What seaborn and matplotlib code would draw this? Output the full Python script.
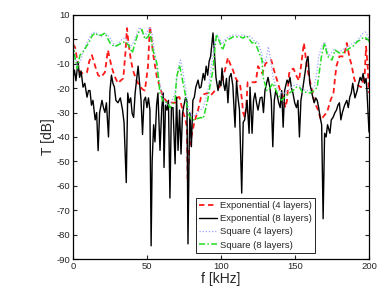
import numpy as np
import pandas as pd
import matplotlib
matplotlib.use("Agg")
import matplotlib.pyplot as plt
import seaborn as sns

# Exponential (8 layers) - black solid
exp8_f = [0, 1, 2, 3.4, 4.5, 5.5, 6.8, 8, 9.5, 10.5,
          11.5, 12.5, 13.5, 15, 16, 17, 18, 19.6, 20.6, 21.6,
          22.6, 24, 25, 26, 27, 28, 29, 30.4, 32, 33.5,
          34.5, 36, 37, 38, 39, 40, 41, 42, 43, 44,
          45, 46, 47, 48, 49, 50, 51, 52, 52.8, 53.5,
          54.5, 55.4, 56.5, 57.4, 58.8, 60, 61, 61.5, 62.5, 63.5,
          64.5, 65.5, 66.5, 67.6, 69, 70, 71, 72, 73, 74,
          75, 76, 77, 77.7, 78.5, 79, 80, 81, 82, 83,
          84.5, 85.5, 86.5, 88, 89, 90, 91, 92, 93, 94.6,
          95.5, 96.6, 98, 99, 100, 100.7, 101.7, 102.7, 103.7, 104.7,
          105.7, 106.8, 108, 109.5, 110.5, 111.5, 112.5, 114, 115, 116,
          117.6, 119, 119.6, 121, 122, 123, 124, 125, 126.5, 127.7,
          128.7, 129.7, 130.8, 131.8, 133, 134, 135, 136, 137, 138,
          139, 140, 141, 142, 143, 144.6, 145.6, 146.6, 147.6, 148.6,
          149.8, 151, 152, 153, 154, 155.4, 156.5, 158, 158.8, 160,
          161, 162, 163, 164, 165, 166, 167, 168, 169, 170,
          171, 172, 173.6, 174.5, 175.7, 177, 178, 179, 180, 181,
          182, 183.5, 185, 186, 187, 188, 189, 190.5, 192, 193,
          194, 195, 196, 197, 198, 198.6, 199.5, 200]
exp8_T = [-16, -12.6, -17, -9.3, -15.6, -13, -19.6, -18, -23.7, -21,
          -21, -27, -25, -33, -30, -45.6, -30, -25, -28, -30,
          -26, -40, -21, -14.7, -18, -19.6, -25, -26, -24, -29,
          -34, -58.7, -22, -26, -24, -30.4, -32, -22, -16.7, -11,
          -18, -25, -39, -25, -23.7, -28, -24, -29, -84.6, -50,
          -35, -42, -27, -22, -45.5, -28, -22, -52.5, -27, -29,
          -25, -65, -28, -28, -51, -23.7, -45.5, -29, -47, -30.4,
          -27, -24, -25, -83.8, -45, -30, -44, -25, -23.7, -19.6,
          -16.7, -20, -19.6, -14, -16.7, -11, -14.7, -9, -7, 2.6,
          -5, -15.6, -21, -17, -19, -11.8, -18, -21, -16, -26,
          -15.6, -14, -19, -36, -17, -24, -29, -63, -34, -33,
          -25, -38.5, -19.6, -38.5, -25, -22, -26, -29, -24, -23.7,
          -30, -21, -18, -15.6, -19.6, -25, -44, -25, -21, -23,
          -26, -28, -21, -36, -21, -16.7, -18, -15.6, -20, -22,
          -26, -28, -25, -40, -25, -19.6, -15, -8.5, -7, -18,
          -21, -23.7, -26, -24, -25, -28, -32, -35, -73.5, -38.5,
          -40, -35, -38.5, -33, -32, -30, -29, -27, -26, -33,
          -30, -27, -25, -28, -23.7, -22, -18, -24, -21, -18,
          -15.6, -17, -14, -18, -16, -21, -32, -38]

# Exponential (4 layers) - red dashed
exp4_f = [0, 1.4, 3, 4.7, 7, 9.5, 11, 12.8, 15, 17,
          19, 21.6, 23.6, 26, 28, 30.4, 32, 34, 35.5, 36.5,
          37.5, 39, 40.5, 43, 45, 47, 48.6, 50.7, 52, 53,
          54, 55.5, 56.7, 59, 61, 64, 65.5, 67.6, 69, 71,
          72, 74, 76, 77, 77.5, 78.5, 80, 82, 84.5, 86.5,
          88.5, 91, 93, 96, 99, 100, 102.7, 104.7, 106, 108,
          110, 113, 114, 115, 116, 117, 118, 121, 123.5, 125,
          127, 128, 130, 132, 134, 135.5, 137, 138.5, 140, 142,
          143.5, 144.6, 146, 147, 149, 151, 152.7, 154.5, 156, 158,
          160, 162, 163, 165, 167.5, 170, 171.6, 174, 176, 177,
          178, 180, 181, 183, 185, 187, 188, 190, 191, 193,
          194.6, 196, 197, 198, 199, 200]
exp4_T = [-2, -3.2, -9, -13.5, -14, -13.5, -9, -6.5, -11, -14.7,
          -15.5, -13.5, -4.4, -11, -15, -18, -17, -16, -5, 4.6,
          -1.5, -8, -12.6, -17, -19, -20.5, -21, -11, 5.5, 1,
          -5.6, -11, -15.6, -20, -23.7, -26, -25.8, -26, -26, -23.7,
          -23.7, -29, -33, -36, -57, -45, -40, -34, -29, -23.7,
          -22.5, -22, -23, -21, -19.6, -18, -12.6, -7.5, -9.8, -12.5,
          -16, -19, -24, -30, -32, -28, -17.6, -17.6, -17.6, -11,
          -13, -14, -10, -9, -8.5, -12, -15, -18, -21, -23.7,
          -28, -25, -14, -12.6, -12, -15, -17, -9, -1.5, -11,
          -17, -22, -26, -28, -33, -31, -30, -25, -22, -16,
          -11, -7, -7, -7, -1.5, -8, -10, -16, -18, -19,
          -19.6, -17, -15.6, -3, -10, -22]

# Square (4 layers) - blue dotted
sq4_f = [0, 1.5, 3, 5, 7, 9, 11, 13, 15, 17,
         19, 21, 23, 25, 27, 29, 31, 33, 35, 37,
         39, 41, 43, 45, 47, 48.5, 50, 52, 53.5, 55,
         57, 59, 61, 63, 65, 67, 69, 71, 72.5, 74,
         76, 78, 80, 82, 84, 86, 88, 90, 92, 94,
         95.5, 97, 99, 101, 103, 105, 107, 109, 111, 113,
         115, 117, 119, 121, 123, 125, 127, 129, 130.5, 132,
         133.5, 135, 137, 139, 141, 143, 145, 147, 149, 151,
         153, 155, 157, 159, 161, 163, 165, 166, 168, 170,
         171.5, 173, 175, 176.5, 178, 180, 182, 184, 186, 188,
         190, 192, 194, 196, 197.5, 199, 200]
sq4_T = [-1, -7, -11, -9, -5, -2, 0.5, 2.5, 3, 2,
         1, 2.5, 2, 0.5, -1.5, -3, -1.5, 0, 0.5, -1,
         -3, -1, 2, 5, 3, 1, 3, 5, 2, -5,
         -13, -19, -24, -26.5, -27, -25, -22, -12, -8.5, -12,
         -20, -28, -31, -31.5, -30, -29, -28, -24, -18, -9,
         -2, 2, 0, -2, 0, 1, 1.5, 2, 1.5, 1.5,
         2, 1, 1.5, 0.5, -1, -1, -5, -10, -8, -3,
         -8, -15, -19, -21, -22, -22, -21, -20, -19, -18.5,
         -19, -20.5, -21, -21, -20.5, -19.6, -12.6, -7, -3, -1,
         -4, -7, -5, -4, -5, -5, -4.5, -3.5, -3, -2,
         -1.5, -0.5, 1, 2.5, 3, 1.5, 0]

# Square (8 layers) - green dash-dot
sq8_f = [0, 1.5, 3, 4.7, 7, 9, 11, 13, 15, 17,
         19.6, 21.6, 23, 25, 28, 30, 33, 35, 37, 39,
         40, 42, 44, 46.6, 48.6, 50.7, 52, 54, 56.7, 58.8,
         61, 64, 65.5, 67, 69, 70, 72, 73.6, 75.7, 77.7,
         80, 82, 84, 86.5, 88, 91, 92.6, 94.6, 96, 97,
         99, 101, 103.4, 106.8, 108, 111.5, 113, 115, 117, 118,
         121, 123, 125, 127.7, 128.5, 131, 133, 135, 138, 141,
         143, 145, 148.6, 151, 153, 155, 158, 160, 163, 165,
         166.5, 168, 170, 172, 175, 177, 180, 182, 185, 187,
         189, 192, 194, 197, 199.5, 200]
sq8_T = [-1, -8, -12, -6.5, -5, -3, -1, 1.5, 2.6, 1.5,
         1.8, 2.6, 1, -1.5, -3, -2.5, -1.5, -1, -2, -4,
         -5.6, -1.5, 2.6, 4, 0, 1, 3, -4.4, -9.8, -22,
         -25.5, -26, -28, -27, -25, -15.6, -10.6, -15.6, -22, -30,
         -33, -33, -32.5, -32, -32.5, -25, -19, -12.6, -3, 2,
         -1, -4.4, -0.5, 0.5, 1, 1, 1, 0.5, 1.5, 1,
         -1.5, -1, -4.4, -8.5, -15.6, -21, -20, -18, -22, -25,
         -23.7, -22.5, -21, -19.6, -19.6, -21.7, -21.7, -22, -21, -19.6,
         -13, -6.5, -1.5, -7, -8.5, -4.4, -5.6, -5.6, -4.4, -3.6,
         -3, -1, -0.3, 1, -0.3, -1]

labels = ["Exponential (4 layers)", "Exponential (8 layers)",
          "Square (4 layers)", "Square (8 layers)"]
x_ticks = [0, 50, 100, 150, 200]
y_ticks = [10, 0, -10, -20, -30, -40, -50, -60, -70, -80, -90]

sns.set_style("ticks")
plt.rcParams["font.family"] = ["Liberation Sans", "DejaVu Sans"]
plt.rcParams["axes.unicode_minus"] = False

fig = plt.figure(figsize=(3.82, 3.04), dpi=100)
ax = fig.add_axes([0.191, 0.148, 0.775, 0.803])

sns.lineplot(x=exp4_f, y=exp4_T, ax=ax, color="#ff1a1a", lw=1.3,
             linestyle=(0, (3, 2)), label=labels[0], estimator=None)
sns.lineplot(x=exp8_f, y=exp8_T, ax=ax, color="black", lw=1.0,
             label=labels[1], estimator=None)
sns.lineplot(x=sq4_f, y=sq4_T, ax=ax, color="#a0a4ff", lw=0.9,
             linestyle=(0, (1, 1.5)), label=labels[2], estimator=None)
sns.lineplot(x=sq8_f, y=sq8_T, ax=ax, color="#22dd22", lw=1.1,
             linestyle=(0, (4, 1.5, 1, 1.5)), label=labels[3], estimator=None)

ax.set_xlim(0, 200)
ax.set_ylim(-90, 10)
ax.set_xticks(x_ticks)
ax.set_yticks(y_ticks)
ax.tick_params(direction="in", top=True, right=True, length=3,
               width=0.8, labelsize=6.8, pad=2)
for s in ax.spines.values():
    s.set_linewidth(0.9)
    s.set_color("black")
ax.set_xlabel("f [kHz]", fontsize=10, labelpad=1)
ax.set_ylabel("T [dB]", fontsize=10, labelpad=1)

leg = ax.legend(loc="lower left", bbox_to_anchor=(0.415, 0.025),
                borderaxespad=0, fontsize=6.8, handlelength=1.9,
                handletextpad=0.3, labelspacing=0.45, borderpad=0.35,
                fancybox=False, framealpha=1, edgecolor="black")
leg.get_frame().set_linewidth(0.6)

fig.savefig("out.png", dpi=100)
